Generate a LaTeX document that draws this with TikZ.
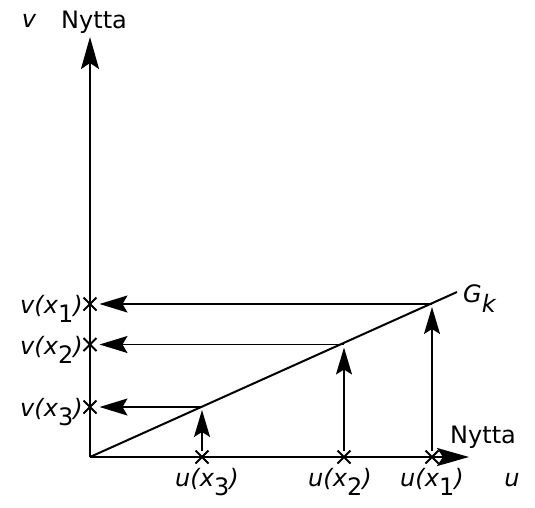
\documentclass[tikz,border=0pt]{standalone}
\usepackage{fontspec}
\setmainfont{DejaVu Sans}
\usetikzlibrary{arrows.meta,shapes.misc}
\newcommand\sublab[2]{\textit{#1(x}\raisebox{-0.38em}{#2}\textit{)}}
\begin{document}
\begin{tikzpicture}[x=1pt,y=-1pt,
  axis/.style={line width=2.4pt,-{Stealth[length=32pt,width=18pt,inset=6pt]}},
  guide/.style={line width=1.5pt},
  harrow/.style={guide,shorten >=3pt,-{Stealth[length=28pt,width=17pt,inset=5pt]}},
  varrow/.style={guide,shorten >=3pt,-{Stealth[length=27pt,width=16pt,inset=5pt]}},
  xmark/.style={cross out,draw,line width=2pt,minimum size=11pt,inner sep=0pt},
  lbl/.style={font=\fontsize{24}{28}\selectfont,inner sep=0pt}]
\useasboundingbox (0,0) rectangle (535,507);
% axes
\coordinate (O) at (90,457);
\coordinate (Vtop) at (90,37);
\coordinate (Uend) at (469,457);
\draw[axis] (O) -- (Vtop);
\draw[axis] (O) -- (Uend);
% line G_k
\coordinate (Gend) at (457,292);
\draw[line width=2pt] (O) -- (Gend);
\coordinate (P1) at (432,304);
\coordinate (P2) at (344,344.5);
\coordinate (P3) at (202,407);
% crosses
\node[xmark] (V1) at (90,304) {};
\node[xmark] (V2) at (90,344.5) {};
\node[xmark] (V3) at (90,407) {};
\node[xmark] (U1) at (432,457) {};
\node[xmark] (U2) at (344,457) {};
\node[xmark] (U3) at (202,457) {};
% guide arrows
\draw[harrow] (P1) -- (V1);
\draw[harrow] (P2) -- (V2);
\draw[harrow] (P3) -- (V3);
\draw[varrow] (U1) -- (P1);
\draw[varrow] (U2) -- (P2);
\draw[varrow] (U3) -- (P3);
% labels
\node[lbl,anchor=base] (lv) at (29,27) {\textit{v}};
\node[lbl,anchor=base west] (ny1) at (61,28) {Nytta};
\node[lbl,anchor=base west] (ny2) at (450,443) {Nytta};
\node[lbl,anchor=base east] (lv1) at (83,313) {\sublab{v}{1}};
\node[lbl,anchor=base east] (lv2) at (83,354) {\sublab{v}{2}};
\node[lbl,anchor=base east] (lv3) at (83,416) {\sublab{v}{3}};
\node[lbl,anchor=base] (lu3) at (207,486) {\sublab{u}{3}};
\node[lbl,anchor=base] (lu2) at (340,486) {\sublab{u}{2}};
\node[lbl,anchor=base] (lu1) at (432,486) {\sublab{u}{1}};
\node[lbl,anchor=base] (lu) at (512,486) {\textit{u}};
\node[lbl,anchor=base west] (lg) at (463,302) {\textit{G}\raisebox{-0.45em}{\textit{k}}};
\end{tikzpicture}
\end{document}
